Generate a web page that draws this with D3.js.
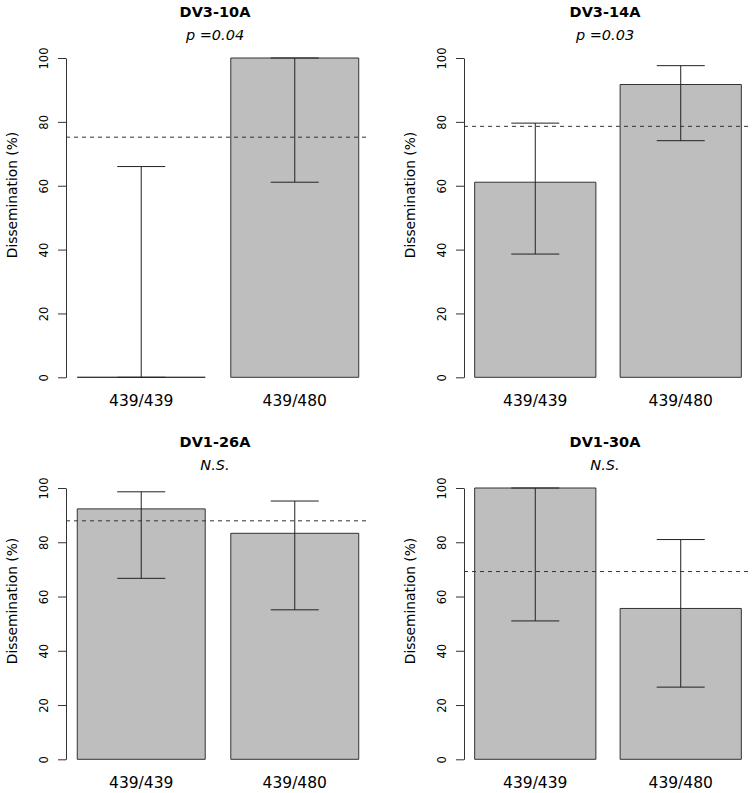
<!DOCTYPE html>
<html>
<head>
<meta charset="utf-8">
<script src="https://cdn.jsdelivr.net/npm/d3@7"></script>
<style>
  html, body { margin: 0; padding: 0; background: #fff; }
  svg { display: block; font-family: "DejaVu Sans", sans-serif; }
</style>
</head>
<body>
<svg id="chart" width="755" height="793"></svg>
<script>
// ---- data ----
const panelTitles = ["DV3-10A", "DV3-14A", "DV1-26A", "DV1-30A"];
const pLabels = ["p =0.04", "p =0.03", "N.S.", "N.S."];
const categories = ["439/439", "439/480"];
const value439_439 = [0, 61.1, 92.3, 100];
const value439_480 = [100, 91.7, 83.3, 55.6];
const lower439_439 = [0, 38.6, 66.7, 51.0];
const upper439_439 = [66.0, 79.6, 98.6, 100];
const lower439_480 = [61.1, 74.1, 55.1, 26.6];
const upper439_480 = [100, 97.6, 95.2, 81.0];
const overallRate = [75.2, 78.6, 87.9, 69.2];
const yTicks = [0, 20, 40, 60, 80, 100];
const yLabel = "Dissemination (%)";

// ---- layout (pixel frames of each plot region) ----
const frames = [
  { left: 66,  right: 370, y0: 377.3, y100: 58,  labelY: 195 },
  { left: 464, right: 752, y0: 377.3, y100: 58,  labelY: 195 },
  { left: 66,  right: 370, y0: 759.3, y100: 488, labelY: 601 },
  { left: 464, right: 752, y0: 759.3, y100: 488, labelY: 601 }
];
const barWidth = 1, barSpace = 0.2;
const capHalf = 24;
const ink = "#222";

const svg = d3.select("#chart");

panelTitles.forEach((title, p) => {
  const f = frames[p];
  const g = svg.append("g");
  const vals = [value439_439[p], value439_480[p]];
  const lo = [lower439_439[p], lower439_480[p]];
  const hi = [upper439_439[p], upper439_480[p]];

  const xl0 = barSpace, xr1 = categories.length * (barWidth + barSpace);
  const pad = 0.04 * (xr1 - xl0);
  const x = d3.scaleLinear().domain([xl0 - pad, xr1 + pad]).range([f.left, f.right]);
  const y = d3.scaleLinear().domain([0, 100]).range([f.y0, f.y100]);

  // bars
  categories.forEach((c, i) => {
    const a = barSpace + i * (barWidth + barSpace);
    const b = a + barWidth;
    const path = d3.path();
    path.moveTo(x(a), y(0));
    path.lineTo(x(b), y(0));
    path.lineTo(x(b), y(vals[i]));
    path.lineTo(x(a), y(vals[i]));
    path.closePath();
    g.append("path").attr("d", path.toString())
      .attr("fill", "#bebebe").attr("stroke", "#333").attr("stroke-width", 1);

    // error bars
    const cx = x((a + b) / 2);
    g.append("line").attr("x1", cx).attr("x2", cx)
      .attr("y1", y(lo[i])).attr("y2", y(hi[i]))
      .attr("stroke", ink).attr("stroke-width", 1);
    [lo[i], hi[i]].forEach(v => {
      g.append("line").attr("x1", cx - capHalf).attr("x2", cx + capHalf)
        .attr("y1", y(v)).attr("y2", y(v))
        .attr("stroke", ink).attr("stroke-width", 1);
    });

    // category label
    g.append("text").attr("x", cx).attr("y", y(0) + 29)
      .attr("text-anchor", "middle").attr("font-size", "15.5px").attr("fill", "#000")
      .text(c);
  });

  // reference dashed line
  g.append("line").attr("x1", f.left).attr("x2", f.right)
    .attr("y1", y(overallRate[p])).attr("y2", y(overallRate[p]))
    .attr("stroke", "#333").attr("stroke-width", 1).attr("stroke-dasharray", "4,4");

  // y axis
  const ax = g.append("g").attr("transform", `translate(${f.left},0)`)
    .call(d3.axisLeft(y).tickValues(yTicks).tickSize(8).tickSizeOuter(0));
  ax.select(".domain").attr("stroke", "#333");
  ax.selectAll(".tick line").attr("stroke", "#333");
  ax.selectAll(".tick text")
    .attr("transform", "rotate(-90)")
    .attr("x", 0).attr("y", -18).attr("dy", 0)
    .attr("text-anchor", "middle")
    .attr("font-size", "11.5px").attr("font-family", "DejaVu Sans, sans-serif")
    .attr("fill", "#000");

  g.append("text")
    .attr("transform", `translate(${f.left - 49},${f.labelY}) rotate(-90)`)
    .attr("text-anchor", "middle").attr("font-size", "13.8px").attr("fill", "#000")
    .text(yLabel);

  // titles
  const cxPlot = (f.left + f.right) / 2 - 3;
  g.append("text").attr("x", cxPlot).attr("y", f.y100 - 41.5)
    .attr("text-anchor", "middle").attr("font-size", "14.5px").attr("font-weight", "bold")
    .attr("fill", "#000").text(title);
  g.append("text").attr("x", cxPlot).attr("y", f.y100 - 18.5)
    .attr("text-anchor", "middle").attr("font-size", "14.5px").attr("font-style", "italic")
    .attr("fill", "#000").text(pLabels[p]);
});
</script>
</body>
</html>
